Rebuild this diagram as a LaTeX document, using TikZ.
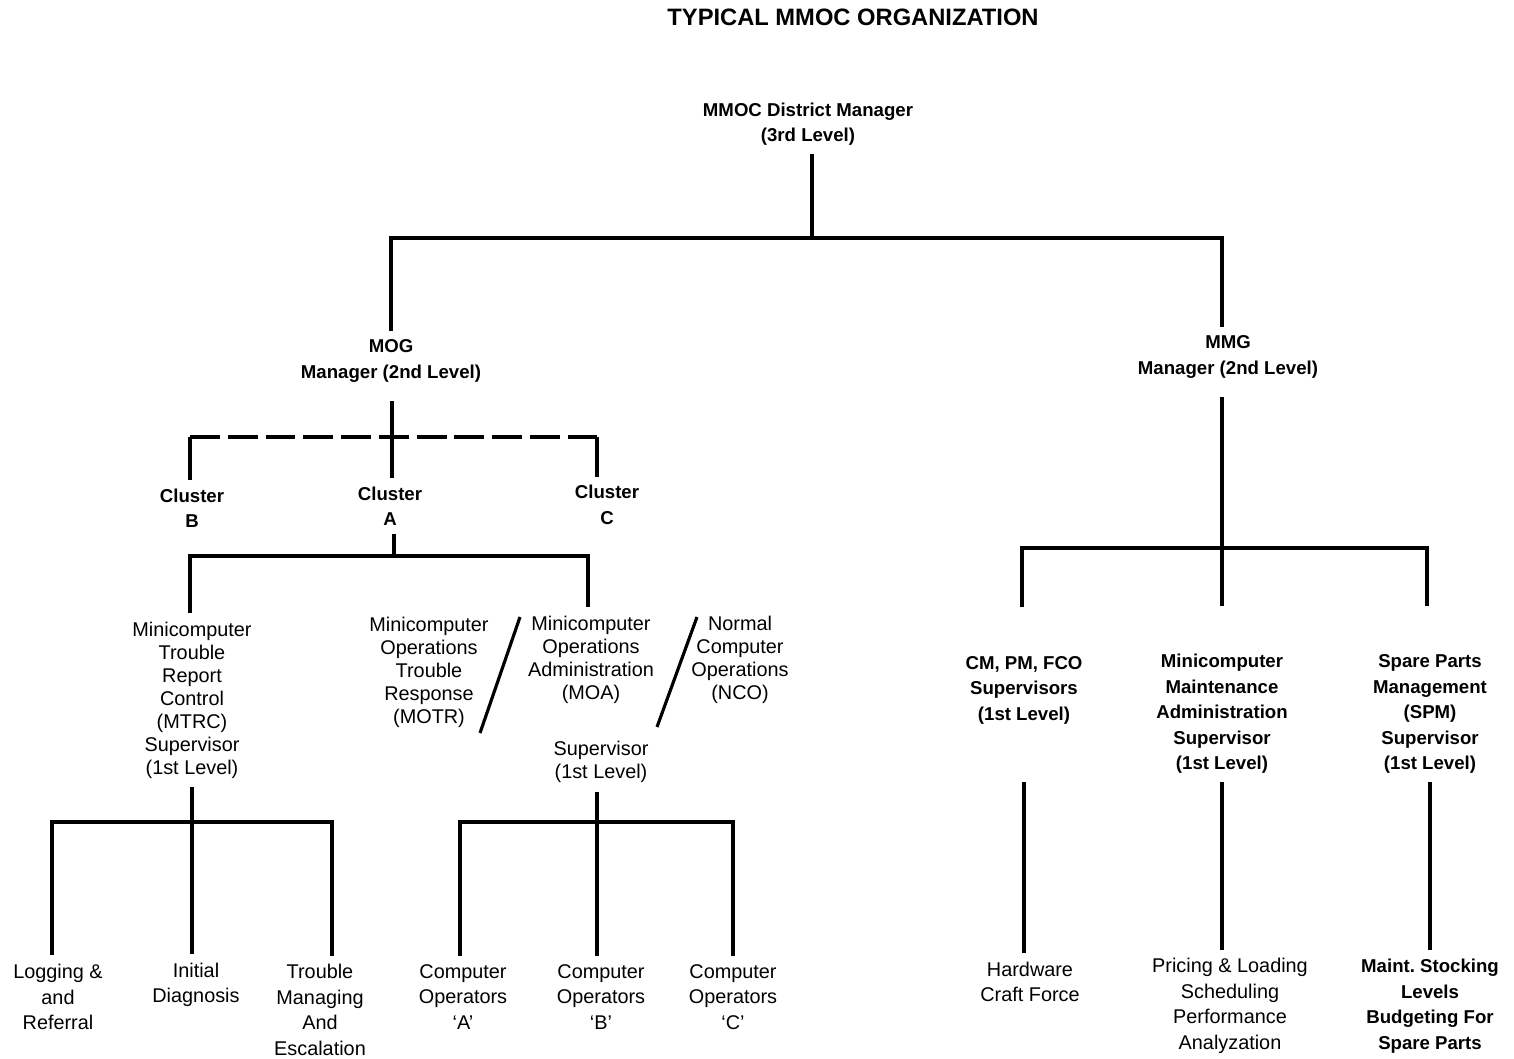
\documentclass[tikz,border=0pt]{standalone}
\usepackage{fontspec}
\setmainfont{Liberation Sans}
\tikzset{
  head/.style={align=center, inner sep=0pt, outer sep=5pt, font=\fontsize{10.6}{14.5}\selectfont\bfseries},
  unit/.style={align=center, inner sep=0pt, outer sep=5pt, font=\fontsize{11.3}{13.1}\selectfont},
  low/.style={unit, font=\fontsize{11.3}{14.5}\selectfont},
  wire/.style={line width=2.2pt},
  dashline/.style={dash pattern=on 17pt off 4.5pt},
  slash/.style={line width=1.8pt},
}
\begin{document}
\begin{tikzpicture}[x=0.02cm, y=-0.02cm]
  \useasboundingbox (0,0) rectangle (1514,1058);
  \node[font=\fontsize{13.5}{16}\selectfont\bfseries] (title) at (853,17) {TYPICAL MMOC ORGANIZATION};

  \node[head] (dm) at (808,124) {MMOC District Manager\\(3rd Level)};
  \node[head] (mog) at (391,361) {MOG\\Manager (2nd Level)};
  \node[head] (mmg) at (1228,357) {MMG\\Manager (2nd Level)};
  \node[head] (cb) at (192,508) {Cluster\\B};
  \node[head] (ca) at (390,506) {Cluster\\A};
  \node[head] (cc) at (607,505) {Cluster\\C};

  \node[unit] (mtrc) at (192,700) {Minicomputer\\Trouble\\Report\\Control\\(MTRC)\\Supervisor\\(1st Level)};
  \node[unit] (motr) at (429,672) {Minicomputer\\Operations\\Trouble\\Response\\(MOTR)};
  \node[unit] (moa) at (591,660) {Minicomputer\\Operations\\Administration\\(MOA)};
  \node[unit] (nco) at (740,660) {Normal\\Computer\\Operations\\(NCO)};
  \node[unit] (sup) at (601,762) {Supervisor\\(1st Level)};

  \node[head] (cm) at (1024,690) {CM, PM, FCO\\Supervisors\\(1st Level)};
  \node[head] (mma) at (1222,714) {Minicomputer\\Maintenance\\Administration\\Supervisor\\(1st Level)};
  \node[head] (spm) at (1430,714) {Spare Parts\\Management\\(SPM)\\Supervisor\\(1st Level)};

  \node[low] (log) at (58,997) {Logging \&\\and\\Referral};
  \node[low] (ini) at (196,985) {Initial\\Diagnosis};
  \node[low] (tro) at (320,1010) {Trouble\\Managing\\And\\Escalation};
  \node[low] (opa) at (463,997) {Computer\\Operators\\`A'};
  \node[low] (opb) at (601,997) {Computer\\Operators\\`B'};
  \node[low] (opc) at (733,997) {Computer\\Operators\\`C'};
  \node[low] (hw) at (1030,982) {Hardware\\Craft Force};
  \node[low] (pri) at (1230,1006) {Pricing \& Loading\\Scheduling\\Performance\\Analyzation};
  \node[head] (mai) at (1430,1006) {Maint.\ Stocking\\Levels\\Budgeting For\\Spare Parts};

  \coordinate (top) at (812,238);
  \coordinate (tl) at (391,238);
  \coordinate (tr) at (1222,238);
  \draw[wire] (top |- dm.south) -- (top);
  \draw[wire] (tl |- mog.north) -- (tl) -- (tr) -- (tr |- mmg.north);

  \coordinate (mogj) at (392,437);
  \coordinate (db) at (190,437);
  \coordinate (dc) at (597,437);
  \draw[wire, shorten <=0.2cm] (mog.south -| mogj) -- (mogj |- ca.north);
  \draw[wire, dashline] (db) -- (dc);
  \draw[wire] (db) -- (db |- cb.north);
  \draw[wire] (dc) -- (dc |- cc.north);

  \coordinate (caj) at (394,556);
  \coordinate (ab) at (190,556);
  \coordinate (ac) at (588,556);
  \draw[wire] (ca.south -| caj) -- (caj);
  \draw[wire] (ab |- mtrc.north) -- (ab) -- (ac) -- (ac |- moa.north);

  \draw[slash] (520,617) -- (480,733);
  \draw[slash] (697,617) -- (657,727);

  \coordinate (mtj) at (192,822);
  \coordinate (l1) at (52,822);
  \coordinate (l3) at (332,822);
  \draw[wire] (mtrc.south -| mtj) -- (mtj |- ini.north);
  \draw[wire] (l1 |- log.north) -- (l1) -- (l3) -- (l3 |- tro.north);

  \coordinate (spj) at (597,822);
  \coordinate (o1) at (460,822);
  \coordinate (o3) at (733,822);
  \draw[wire] (sup.south -| spj) -- (spj |- opb.north);
  \draw[wire] (o1 |- opa.north) -- (o1) -- (o3) -- (o3 |- opc.north);

  \coordinate (mmj) at (1222,548);
  \coordinate (m1) at (1022,548);
  \coordinate (m3) at (1427,548);
  \draw[wire, shorten <=0.2cm] (mmg.south -| mmj) -- (mmj);
  \draw[wire, shorten >=0.8cm] (mmj) -- (mmj |- mma.north);
  \draw[wire, shorten <=0.8cm, shorten >=0.8cm] (m1 |- cm.north) -- (m1) -- (m3) -- (m3 |- spm.north);

  \draw[wire] (cm.south |- mma.south) -- (cm.south |- hw.north);
  \draw[wire] (mma.south) -- (mma.south |- pri.north);
  \draw[wire] (spm.south) -- (spm.south |- mai.north);
\end{tikzpicture}
\end{document}
